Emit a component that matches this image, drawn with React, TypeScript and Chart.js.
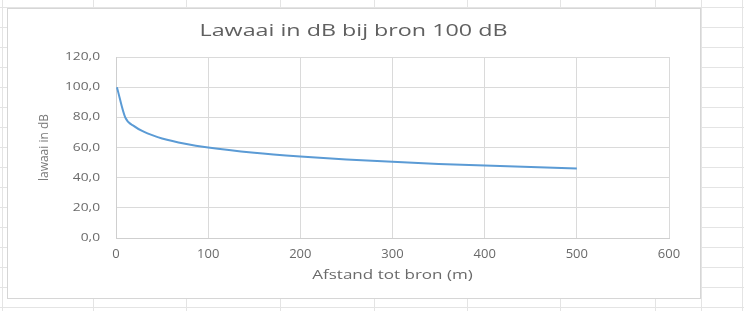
import React, { useEffect, useRef } from "react";
import { Chart, registerables } from "chart.js";

Chart.register(...registerables);

const distances = [1, 10, 20, 30, 40, 50, 75, 100, 150, 200, 250, 300, 350, 400, 450, 500];
const levels = [100, 80, 74, 70.5, 68, 66, 62.5, 60, 56.5, 54, 52, 50.5, 49, 48, 47, 46];
const chartTitle = "Lawaai in dB bij bron 100 dB";
const xTitle = "Afstand tot bron (m)";
const yTitle = "lawaai in dB";

const textColor = "#6a6a6a";
const font = "'Open Sans', 'DejaVu Sans', sans-serif";

function stretchAround(ctx: any, cx: number, k: number, fn: () => void) {
  ctx.save();
  ctx.translate(cx, 0);
  ctx.scale(k, 1);
  ctx.translate(-cx, 0);
  fn();
  ctx.restore();
}

const sheetPlugin = {
  id: "sheetBackground",
  afterLayout(chart: any) {
    const t = chart.titleBlock;
    if (t) {
      t.left = 7;
      t.right = 700;
      t.width = 693;
      if (!t.__wrapped) {
        t.__wrapped = true;
        const orig = t.draw.bind(t);
        t.draw = (...a: any[]) =>
          stretchAround(chart.ctx, (t.left + t.right) / 2, 1.37, () => orig(...a));
      }
    }
    const x = chart.scales.x;
    if (x && !x.__wrapped) {
      x.__wrapped = true;
      const origTitle = x.drawTitle.bind(x);
      x.drawTitle = (...a: any[]) =>
        stretchAround(chart.ctx, (x.left + x.right) / 2, 1.42, () => origTitle(...a));
    }
    const y = chart.scales.y;
    if (y && !y.__wrapped) {
      y.__wrapped = true;
      const origLabels = y.drawLabels.bind(y);
      y.drawLabels = (...a: any[]) =>
        stretchAround(chart.ctx, y.right - 16, 1.25, () => origLabels(...a));
    }
  },
  beforeDraw(chart: any) {
    const ctx = chart.ctx;
    const W = chart.width;
    const H = chart.height;
    ctx.save();
    ctx.fillStyle = "#ffffff";
    ctx.fillRect(0, 0, W, H);
    ctx.strokeStyle = "#e4e4e4";
    ctx.lineWidth = 1;
    const cols = [2, 93, 186, 280, 374, 467, 560, 655, 701, 742];
    cols.forEach((cx) => {
      ctx.beginPath();
      ctx.moveTo(cx + 0.5, 0);
      ctx.lineTo(cx + 0.5, H);
      ctx.stroke();
    });
    for (let yy = 7; yy < H; yy += 20) {
      ctx.beginPath();
      ctx.moveTo(0, yy + 0.5);
      ctx.lineTo(W, yy + 0.5);
      ctx.stroke();
    }
    ctx.fillStyle = "#ffffff";
    ctx.fillRect(7, 8, 693, 290);
    ctx.strokeStyle = "#d6d6d6";
    ctx.strokeRect(7.5, 8.5, 693, 290);
    ctx.restore();
  },
};

export default function App() {
  const ref = useRef<HTMLCanvasElement | null>(null);
  useEffect(() => {
    if (!ref.current) return;
    const chart = new Chart(ref.current, {
      type: "scatter",
      data: {
        datasets: [
          {
            data: distances.map((d, i) => ({ x: d, y: levels[i] })),
            showLine: true,
            borderColor: "#5B9BD5",
            backgroundColor: "#5B9BD5",
            borderWidth: 2,
            pointRadius: 0,
            cubicInterpolationMode: "monotone",
          } as any,
        ],
      },
      options: {
        responsive: false,
        animation: false,
        layout: { padding: { left: 8, right: 75, top: 8, bottom: 13 } },
        plugins: {
          legend: { display: false },
          tooltip: { enabled: false },
          title: {
            display: true,
            text: chartTitle,
            color: "#606060",
            font: { family: font, size: 17, weight: "normal" },
            padding: { top: 13, bottom: 15.6 },
          },
        },
        scales: {
          x: {
            type: "linear",
            min: 0,
            max: 600,
            ticks: {
              stepSize: 100,
              color: textColor,
              font: { family: font, size: 13 },
              padding: 8,
            },
            grid: { color: "#dadada", drawTicks: false },
            border: { color: "#cfcfcf" },
            title: {
              display: true,
              text: xTitle,
              color: textColor,
              font: { family: font, size: 12 },
              padding: { top: 0, bottom: 14.8 },
            },
            afterFit(scale: any) {
              scale.height = 60;
            },
          },
          y: {
            min: 0,
            max: 120,
            ticks: {
              stepSize: 20,
              color: textColor,
              font: { family: font, size: 11 },
              padding: 16,
              callback: (v: any) => Number(v).toFixed(1).replace(".", ","),
            },
            grid: { color: "#dadada", drawTicks: false },
            border: { color: "#cfcfcf" },
            title: {
              display: true,
              text: yTitle,
              color: "#7a7a7a",
              font: { family: font, size: 12 },
              padding: { top: 29, bottom: 0 },
            },
            afterFit(scale: any) {
              scale.width = 108;
            },
          },
        },
      },
      plugins: [sheetPlugin],
    });
    return () => chart.destroy();
  }, []);
  return (
    <div style={{ position: "absolute", left: 0, top: 0, width: 744, height: 311 }}>
      <canvas ref={ref} width={744} height={311} />
    </div>
  );
}
